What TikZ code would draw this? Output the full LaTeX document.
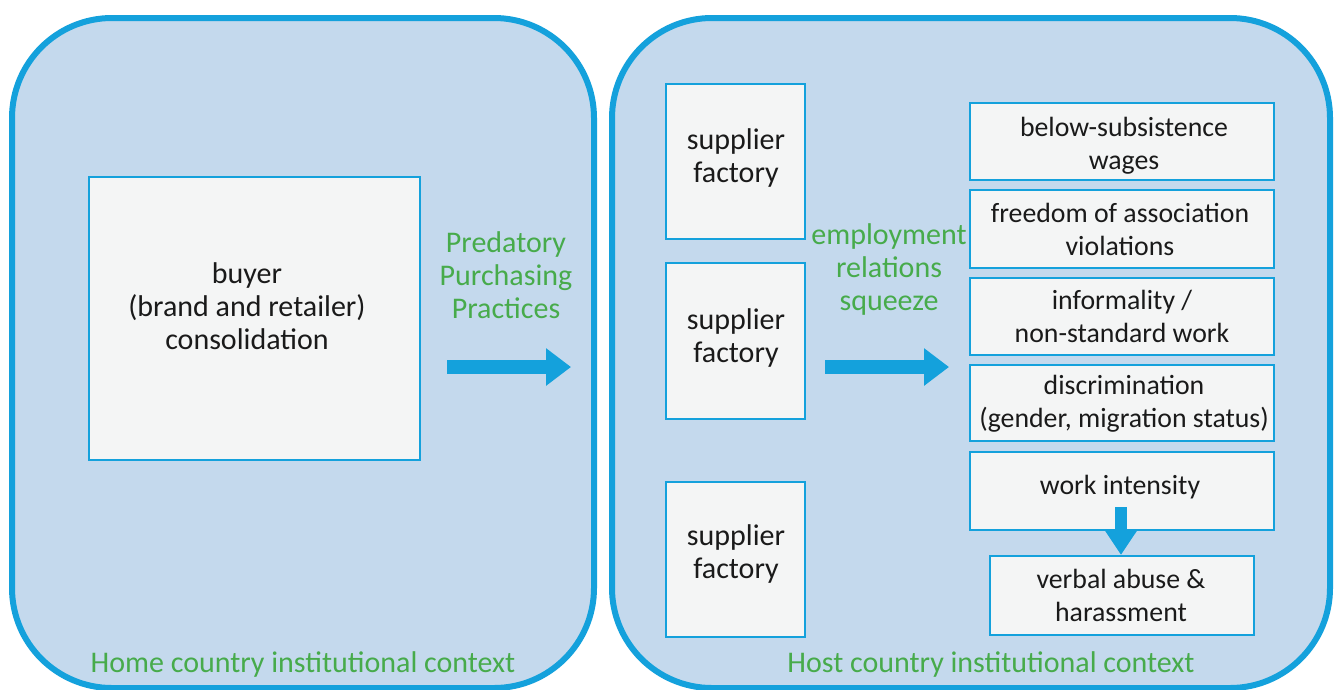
\documentclass[tikz,border=0pt]{standalone}
\usepackage{fontspec}
\setmainfont{Carlito}
\usetikzlibrary{arrows.meta}
\definecolor{bblue}{HTML}{14A1DC}
\definecolor{panel}{HTML}{C4D9ED}
\definecolor{boxfill}{HTML}{F4F5F5}
\definecolor{ggreen}{HTML}{47AB4B}
\definecolor{ink}{HTML}{1A1A1A}
\begin{document}
\begin{tikzpicture}[x=1pt,y=-1pt,
  panelbox/.style={draw=bblue,line width=6pt,fill=panel,rounded corners=100pt},
  itembox/.style={draw=bblue,line width=2.2pt,fill=boxfill,inner sep=0pt},
  bigtext/.style={text=ink,align=center,inner sep=0pt,font=\fontsize{30}{33}\selectfont},
  smalltext/.style={text=ink,align=center,inner sep=0pt,font=\fontsize{27.8}{33}\selectfont},
  greentext/.style={text=ggreen,align=center,font=\fontsize{30}{33}\selectfont,inner sep=0pt},
  bigarrow/.style={draw=bblue,line width=14pt,-{Triangle[length=25pt,width=36pt]}},
  smallarrow/.style={draw=bblue,line width=12pt,-{Triangle[length=24pt,width=30pt]}}
]
\useasboundingbox (0,0) rectangle (1335,689);
\fill[white] (0,0) rectangle (1335,689);
% panels
\draw[panelbox] (12,18) rectangle (594,688);
\draw[panelbox] (612,18) rectangle (1330,688);
% buyer
\node[itembox,minimum width=331pt,minimum height=283pt] (buyer) at (254.5,318.5) {};
\node[bigtext] (buyert) at (247,306) {buyer\\(brand and retailer)\\consolidation};
% suppliers
\node[itembox,minimum width=139pt,minimum height=155pt] (s1) at (735.5,161.5) {};
\node[itembox,minimum width=139pt,minimum height=156pt] (s2) at (735.5,341) {};
\node[itembox,minimum width=139pt,minimum height=155pt] (s3) at (735.5,559.5) {};
\node[bigtext] (s1t) at (736,158) {supplier\\factory};
\node[bigtext] (s2t) at (736,338) {supplier\\factory};
\node[bigtext] (s3t) at (736,554) {supplier\\factory};
% outcomes
\node[itembox,minimum width=304pt,minimum height=77pt] (o1) at (1122,141.5) {};
\node[itembox,minimum width=304pt,minimum height=78pt] (o2) at (1122,229) {};
\node[itembox,minimum width=304pt,minimum height=77pt] (o3) at (1122,316.5) {};
\node[itembox,minimum width=304pt,minimum height=76pt] (o4) at (1122,403) {};
\node[itembox,minimum width=304pt,minimum height=78pt] (o5) at (1122,491) {};
\node[itembox,minimum width=264pt,minimum height=79pt] (o6) at (1122,595.5) {};
\node[smalltext] (o1t) at (1124,146) {below-subsistence\\wages};
\node[smalltext] (o2t) at (1120,229) {freedom of association\\violations};
\node[smalltext] (o3t) at (1122,316) {informality /\\non-standard work};
\node[smalltext] (o4t) at (1124,404) {discrimination\\(gender, migration status)};
\node[smalltext,anchor=base] (o5t) at (1120,494) {work intensity};
\node[smalltext] (o6t) at (1121,595) {verbal abuse \&\\harassment};
% labels
\node[greentext] (ppp) at (506,275) {Predatory\\Purchasing\\Practices};
\node[greentext] (ers) at (889,269) {employment\\relations\\squeeze};
\node[greentext,anchor=base] (home) at (303,672) {Home country institutional context};
\node[greentext,anchor=base] (host) at (991,672) {Host country institutional context};
% arrows
\coordinate (a1s) at (447,367);
\coordinate (a1e) at (571,367);
\draw[bigarrow] (a1s) -- (a1e);
\coordinate (a2s) at (825,367);
\coordinate (a2e) at (949,367);
\draw[bigarrow] (a2s) -- (a2e);
\coordinate (a3s) at (1121,507);
\draw[smallarrow] (a3s) -- (o6.north -| a3s);
\end{tikzpicture}
\end{document}
